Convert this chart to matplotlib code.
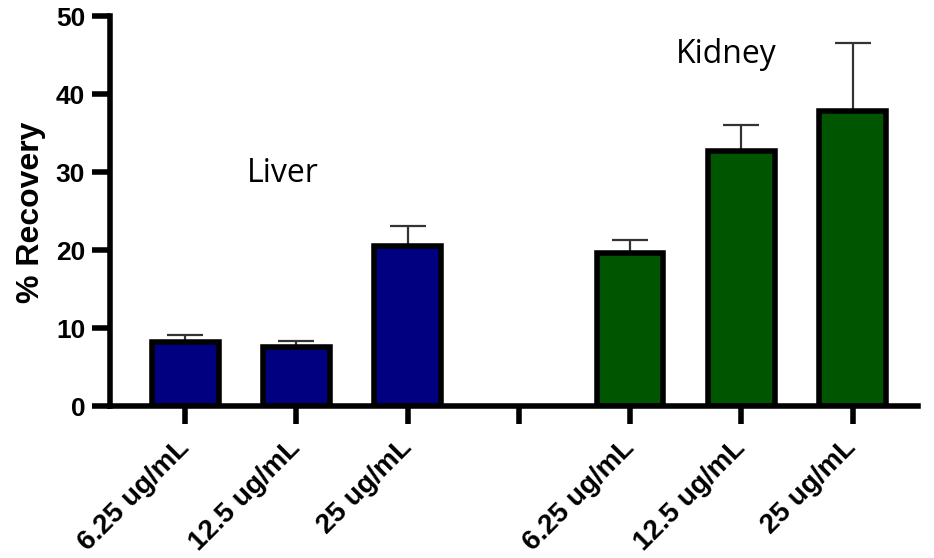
import matplotlib.pyplot as plt
from matplotlib.transforms import ScaledTranslation

# data
labels = ["6.25 ug/mL", "12.5 ug/mL", "25 ug/mL", "",
          "6.25 ug/mL", "12.5 ug/mL", "25 ug/mL"]
liver = [8.2, 7.6, 20.5]
liver_err = [0.9, 0.7, 2.6]
kidney = [19.7, 32.7, 37.9]
kidney_err = [1.6, 3.3, 8.6]

plt.rcParams['font.family'] = ['Liberation Sans', 'DejaVu Sans']

fig = plt.figure(figsize=(9.34, 5.58), dpi=100)
ax = fig.add_axes([0.118, 0.272, 0.865, 0.699])

xl = [0, 1, 2]
xk = [4, 5, 6]
ekw = dict(ecolor='#333333', elinewidth=1.6, capsize=13, capthick=1.6, zorder=1)
ax.bar(xl, liver, width=0.6, color='#000080', edgecolor='black', linewidth=4,
       yerr=[[0]*3, liver_err], error_kw=ekw, zorder=2)
ax.bar(xk, kidney, width=0.6, color='#005500', edgecolor='black', linewidth=4,
       yerr=[[0]*3, kidney_err], error_kw=ekw, zorder=2)

ax.set_xlim(-0.675, 6.59)
ax.set_ylim(0, 50)
ax.set_yticks([0, 10, 20, 30, 40, 50])
ax.set_xticks(range(7))
ax.set_xticklabels(labels, rotation=45, ha='right', va='center',
                   rotation_mode='anchor', fontsize=20, fontweight='bold')
shift = ScaledTranslation(14/100, 0, fig.dpi_scale_trans)
for t in ax.get_xticklabels():
    t.set_transform(t.get_transform() + shift)
for t in ax.get_yticklabels():
    t.set_fontsize(19)
    t.set_fontweight('bold')
ax.tick_params(axis='both', width=4, length=13, pad=5)
ax.tick_params(axis='x', pad=14)

for s in ['top', 'right']:
    ax.spines[s].set_visible(False)
for s in ['left', 'bottom']:
    ax.spines[s].set_linewidth(4)

ax.set_ylabel('% Recovery', fontsize=23, fontweight='bold')
ax.yaxis.set_label_coords(-0.079, 0.496)

ax.text(0.876, 28.7, 'Liver', fontsize=23, family=['Open Sans', 'DejaVu Sans'],
        ha='center', va='baseline')
ax.text(4.865, 44.0, 'Kidney', fontsize=23, family=['Open Sans', 'DejaVu Sans'],
        ha='center', va='baseline')

plt.savefig("out.png", dpi=100)
